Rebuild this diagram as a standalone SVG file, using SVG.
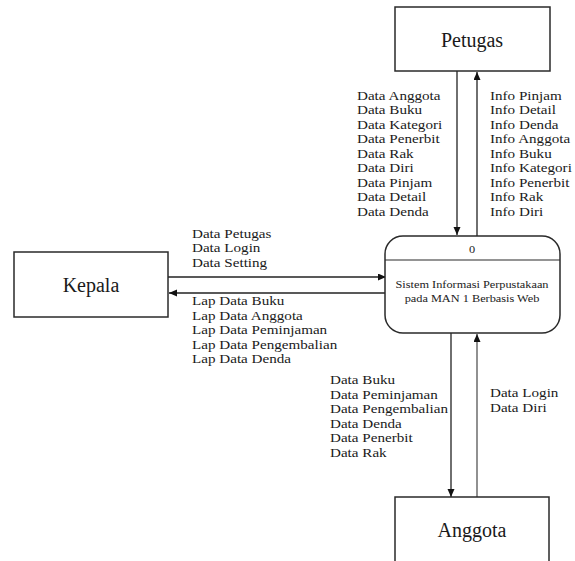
<svg xmlns="http://www.w3.org/2000/svg" width="575" height="561" viewBox="0 0 575 561">
<style>
  .box{fill:#fff;stroke:#2a2a2a;stroke-width:1.5}
  .big{font-family:"Liberation Serif","Times New Roman",serif;font-size:20px;fill:#1a1a1a;text-anchor:middle}
  .lbl{font-family:"Liberation Serif","Times New Roman",serif;font-size:13.5px;fill:#1a1a1a}
  .proc{font-family:"Liberation Serif","Times New Roman",serif;font-size:11px;fill:#222;text-anchor:middle}
  .ln{fill:none;stroke:#222;stroke-width:1.3;marker-end:url(#ah)}
</style>
<defs>
  <marker id="ah" markerUnits="userSpaceOnUse" markerWidth="9" markerHeight="8" refX="8" refY="3.5" orient="auto">
    <path d="M0,0 L8,3.5 L0,7 z" fill="#111"/>
  </marker>
</defs>
<rect width="575" height="561" fill="#fff"/>

<g id="connectors">
  <line class="ln" x1="457" y1="71" x2="457" y2="235"/>
  <line class="ln" x1="477" y1="236" x2="477" y2="72"/>
  <line class="ln" x1="168" y1="277" x2="386" y2="277"/>
  <line class="ln" x1="386" y1="293" x2="169" y2="293"/>
  <line class="ln" x1="451" y1="333" x2="451" y2="497"/>
  <line class="ln" x1="477" y1="497" x2="477" y2="334" style="stroke:#555"/>
</g>

<g id="petugas">
  <rect class="box" x="395" y="7" width="155" height="64"/>
  <text class="big" x="472" y="47">Petugas</text>
</g>

<g id="kepala">
  <rect class="box" x="14" y="252" width="154" height="65"/>
  <text class="big" x="91" y="292">Kepala</text>
</g>

<g id="anggota">
  <rect class="box" x="395" y="497" width="154" height="80"/>
  <text class="big" x="472" y="537">Anggota</text>
</g>

<g id="proses">
  <rect class="box" x="385" y="236" width="175" height="97" rx="18" ry="18"/>
  <line x1="385" y1="260" x2="560" y2="260" stroke="#2a2a2a" stroke-width="1.2"/>
  <g transform="translate(472 0) scale(1.12 1)">
    <text class="proc" x="0" y="253">0</text>
    <text class="proc" x="0" y="288">Sistem Informasi Perpustakaan</text>
    <text class="proc" x="0" y="302">pada MAN 1 Berbasis Web</text>
  </g>
</g>

<g id="labels">
  <g transform="translate(357 0) scale(1.12 1)" class="lbl">
    <text x="0" y="100">Data Anggota</text>
    <text x="0" y="114.5">Data Buku</text>
    <text x="0" y="129">Data Kategori</text>
    <text x="0" y="143.5">Data Penerbit</text>
    <text x="0" y="158">Data Rak</text>
    <text x="0" y="172.5">Data Diri</text>
    <text x="0" y="187">Data Pinjam</text>
    <text x="0" y="201.5">Data Detail</text>
    <text x="0" y="216">Data Denda</text>
  </g>
  <g transform="translate(490 0) scale(1.12 1)" class="lbl">
    <text x="0" y="100">Info Pinjam</text>
    <text x="0" y="114.5">Info Detail</text>
    <text x="0" y="129">Info Denda</text>
    <text x="0" y="143.5">Info Anggota</text>
    <text x="0" y="158">Info Buku</text>
    <text x="0" y="172.5">Info Kategori</text>
    <text x="0" y="187">Info Penerbit</text>
    <text x="0" y="201.5">Info Rak</text>
    <text x="0" y="216">Info Diri</text>
  </g>
  <g transform="translate(192 0) scale(1.12 1)" class="lbl">
    <text x="0" y="238">Data Petugas</text>
    <text x="0" y="252.5">Data Login</text>
    <text x="0" y="267">Data Setting</text>
    <text x="0" y="305">Lap Data Buku</text>
    <text x="0" y="319.6">Lap Data Anggota</text>
    <text x="0" y="334.2">Lap Data Peminjaman</text>
    <text x="0" y="348.8">Lap Data Pengembalian</text>
    <text x="0" y="363.4">Lap Data Denda</text>
  </g>
  <g transform="translate(330 0) scale(1.12 1)" class="lbl">
    <text x="0" y="384">Data Buku</text>
    <text x="0" y="398.6">Data Peminjaman</text>
    <text x="0" y="413.2">Data Pengembalian</text>
    <text x="0" y="427.8">Data Denda</text>
    <text x="0" y="442.4">Data Penerbit</text>
    <text x="0" y="457">Data Rak</text>
  </g>
  <g transform="translate(490 0) scale(1.12 1)" class="lbl">
    <text x="0" y="397">Data Login</text>
    <text x="0" y="412">Data Diri</text>
  </g>
</g>
</svg>
